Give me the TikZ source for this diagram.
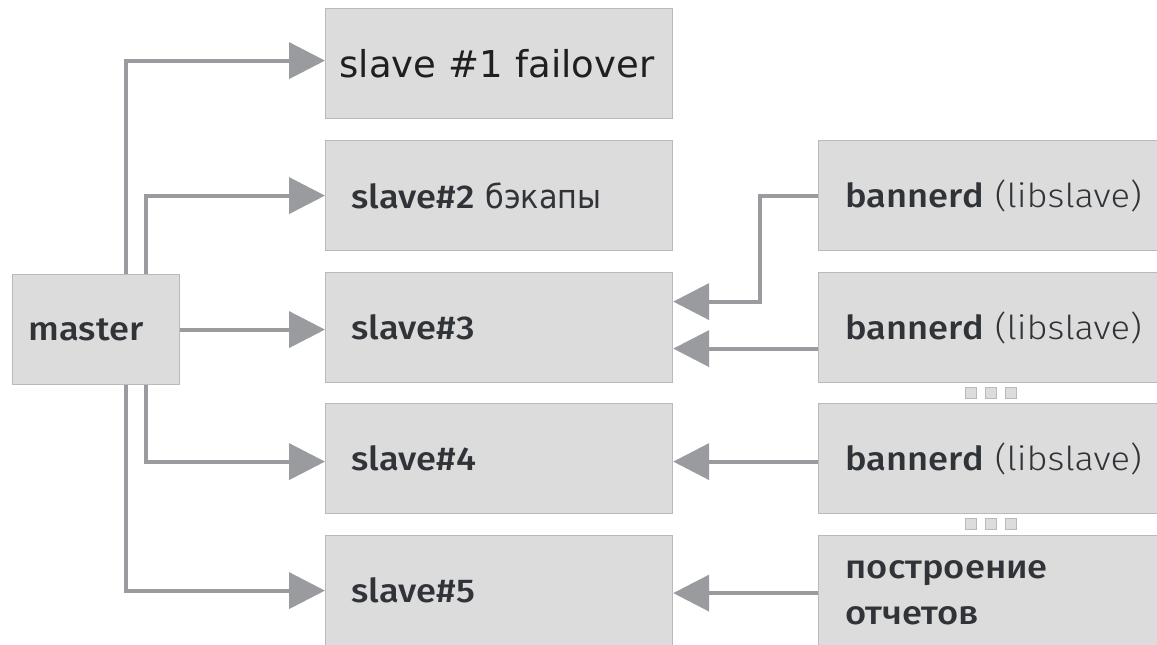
\documentclass[tikz,border=0pt]{standalone}
\usepackage{fontspec}
\usepackage{xcolor}
\setmainfont{Fira Sans}
\IfFontExistsTF{Fira Sans Medium}{\newfontfamily\medfont{Fira Sans Medium}[FakeStretch=1.1]}{\newfontfamily\medfont{Fira Sans}[FakeBold=1.2,FakeStretch=1.1]}
\IfFontExistsTF{Fira Sans Light}{\newfontfamily\lightfont{Fira Sans Light}[FakeStretch=1.1]}{\newfontfamily\lightfont{Fira Sans}[FakeStretch=1.1]}
\newfontfamily\plainfont{DejaVu Sans}
\newfontfamily\condfont{DejaVu Sans}[FakeStretch=0.92]
\usetikzlibrary{arrows.meta}

\definecolor{boxfill}{RGB}{220,220,220}
\definecolor{boxline}{RGB}{186,186,186}
\definecolor{linkgray}{RGB}{153,155,159}
\definecolor{textdark}{RGB}{48,52,56}

\begin{document}
\begin{tikzpicture}[x=1pt,y=-1pt,
  box/.style={draw=boxline,fill=boxfill,line width=1.2pt,anchor=north west,
    minimum height=110pt,inner ysep=0pt,text=textdark,
    font=\fontsize{33}{46}\selectfont\medfont},
  slavebox/.style={box,minimum width=347pt,text width=295pt,inner xsep=26pt},
  clientbox/.style={box,minimum width=360pt,text width=330pt,inner xsep=27pt},
  link/.style={draw=linkgray,line width=4pt,-{Triangle[length=36pt,width=36pt]}},
  dotbox/.style={draw=boxline,fill=boxfill,line width=0.8pt,minimum width=11pt,
    minimum height=11pt,inner sep=0pt}]
\useasboundingbox (0,0) rectangle (1157,645);

% master and slaves
\node[box,minimum width=167pt,text width=135pt,inner xsep=16pt] (master) at (12,274) {master};
\node[slavebox,text width=319pt,inner xsep=14pt,text=black!88,
  font=\fontsize{37}{44}\selectfont\plainfont] (slave1) at (325,8) {slave \#1 failover};
\node[slavebox] (slave2) at (325,140)
  {slave\#2 {\condfont\fontsize{33}{40}\selectfont бэкапы}};
\node[slavebox] (slave3) at (325,272) {slave\#3};
\node[slavebox] (slave4) at (325,403) {slave\#4};
\node[slavebox] (slave5) at (325,535) {slave\#5};

% clients
\node[clientbox] (ban1) at (818,140) {bannerd {\lightfont (libslave)}};
\node[clientbox] (ban2) at (818,272) {bannerd {\lightfont (libslave)}};
\node[clientbox] (ban3) at (818,403) {bannerd {\lightfont (libslave)}};
\node[clientbox,minimum height=115pt] (report) at (818,535) {построение\\отчетов};

% dots between clients
\node[dotbox] (dotA1) at (971,393) {};
\node[dotbox] (dotA2) at (991,393) {};
\node[dotbox] (dotA3) at (1011,393) {};
\node[dotbox] (dotB1) at (971,524) {};
\node[dotbox] (dotB2) at (991,524) {};
\node[dotbox] (dotB3) at (1011,524) {};

% replication
\draw[link] ([xshift=29.5pt]master.north) |- ([yshift=3pt]slave1.west);
\draw[link] ([xshift=49.5pt]master.north) |- (slave2.west);
\draw[link] (master.east) -- (master.east -| slave3.west);
\draw[link] ([xshift=49.5pt]master.south) |- ([yshift=-3pt]slave4.west);
\draw[link] ([xshift=29.5pt]master.south) |- (slave5.west);

% readers
\draw[link] (ban1.west) -- ++(-58,0) |- ([yshift=26pt]slave3.east);
\draw[link] ([yshift=-21pt]ban2.west) -- ([yshift=-21pt]slave3.east);
\draw[link] ([yshift=-3pt]ban3.west) -- ([yshift=-3pt]slave4.east);
\draw[link] (report.west) -- ([yshift=-2.5pt]slave5.east);
\end{tikzpicture}
\end{document}
